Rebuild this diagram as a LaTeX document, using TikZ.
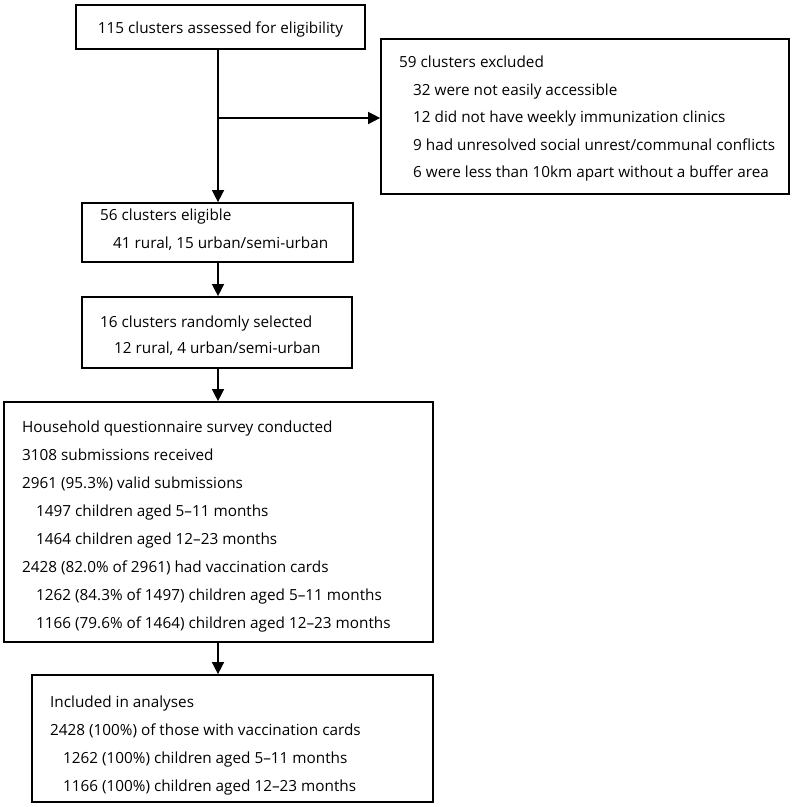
\documentclass[tikz,border=0pt]{standalone}
\usepackage{fontspec}
\setmainfont{Open Sans}
\usetikzlibrary{arrows.meta}
\begin{document}
\begin{tikzpicture}[x=1pt,y=-1pt,
  box/.style={draw,line width=1.7pt,rectangle,inner sep=0pt},
  txt/.style={anchor=base west,inner sep=0pt,font=\fontsize{15.3}{18}\selectfont},
  arr/.style={line width=1.4pt,-{Triangle[width=12pt,length=12pt]}}]
\useasboundingbox (0,0) rectangle (798,807);
\node[box,minimum width=289pt,minimum height=44pt] (b1) at (220.5,27) {};
\node[box,minimum width=408pt,minimum height=155pt] (ex) at (585,116.5) {};
\node[box,minimum width=271pt,minimum height=59pt] (b2) at (217.5,232.5) {};
\node[box,minimum width=270pt,minimum height=71pt] (b3) at (217,332.5) {};
\node[box,minimum width=429pt,minimum height=240pt] (b4) at (218.5,522) {};
\node[box,minimum width=401pt,minimum height=127pt] (b5) at (232.5,738.5) {};
\node[txt,anchor=base] (t1) at (220.5,33) {115 clusters assessed for eligibility};
% excluded
\node[txt] (e0) at (399,67) {59 clusters excluded};
\node[txt] (e1) at (413,95) {32 were not easily accessible};
\node[txt] (e2) at (413,122) {12 did not have weekly immunization clinics};
\node[txt] (e3) at (413,150) {9 had unresolved social unrest/communal conflicts};
\node[txt] (e4) at (413,177) {6 were less than 10km apart without a buffer area};
% box2
\node[txt] (c0) at (100,220) {56 clusters eligible};
\node[txt] (c1) at (113,248) {41 rural, 15 urban/semi-urban};
% box3
\node[txt] (d0) at (100,327) {16 clusters randomly selected};
\node[txt] (d1) at (114,353) {12 rural, 4 urban/semi-urban};
% box4
\node[txt] (h0) at (22,432) {Household questionnaire survey conducted};
\node[txt] (h1) at (22,460) {3108 submissions received};
\node[txt] (h2) at (22,488) {2961 (95.3\%) valid submissions};
\node[txt] (h3) at (36,516) {1497 children aged 5–11 months};
\node[txt] (h4) at (36,544) {1464 children aged 12–23 months};
\node[txt] (h5) at (22,572) {2428 (82.0\% of 2961) had vaccination cards};
\node[txt] (h6) at (36,600) {1262 (84.3\% of 1497) children aged 5–11 months};
\node[txt] (h7) at (36,628) {1166 (79.6\% of 1464) children aged 12–23 months};
% box5
\node[txt] (i0) at (50,707) {Included in analyses};
\node[txt] (i1) at (50,735) {2428 (100\%) of those with vaccination cards};
\node[txt] (i2) at (63,763) {1262 (100\%) children aged 5–11 months};
\node[txt] (i3) at (63,791) {1166 (100\%) children aged 12–23 months};
% connectors
\coordinate (j) at (218,118);
\draw[arr] (b1.south -| j) -- (b2.north -| j);
\draw[arr] (j) -- (j -| ex.west);
\draw[arr] (b2.south -| j) -- (b3.north -| j);
\draw[arr] (b3.south -| j) -- (b4.north -| j);
\draw[arr] (b4.south -| j) -- (b5.north -| j);
\end{tikzpicture}
\end{document}
